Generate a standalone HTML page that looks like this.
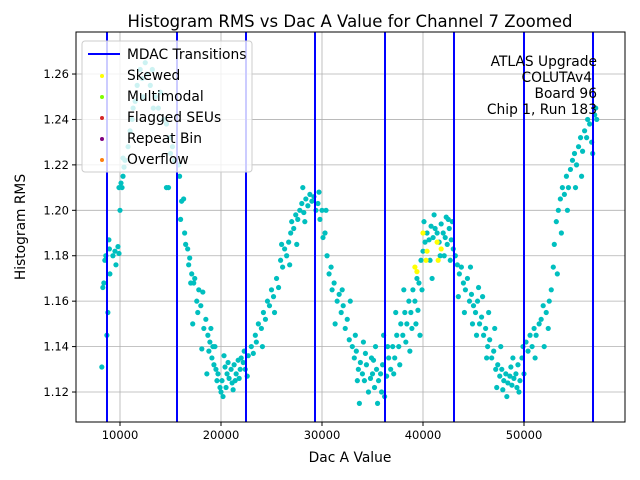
<!DOCTYPE html>
<html><head><meta charset="utf-8"><style>
body{margin:0;background:#fff}
svg{display:block;font-family:"DejaVu Sans","Liberation Sans",sans-serif}
</style></head><body>
<svg id="chart" width="640" height="480" viewBox="0 0 640 480">
<rect width="640" height="480" fill="#fff"/>
<text x="350" y="27" font-size="16.5" text-anchor="middle">Histogram RMS vs Dac A Value for Channel 7 Zoomed</text>
<g id="grid"></g><g id="marks"></g><g id="mdac"></g><g id="axes"></g>
<text x="350" y="462" font-size="13.8" text-anchor="middle">Dac A Value</text>
<text transform="translate(25,227) rotate(-90)" font-size="13.8" text-anchor="middle">Histogram RMS</text>
<g font-size="13.8" text-anchor="end">
<text x="597" y="66">ATLAS Upgrade</text><text x="592" y="82">COLUTAv4</text>
<text x="597" y="98">Board 96</text><text x="597" y="114">Chip 1, Run 183</text></g>
<g id="legend">
<rect x="82" y="41" width="170" height="131" rx="3" fill="#fff" fill-opacity="0.8" stroke="#ccc"/>
<line x1="88" y1="54" x2="120" y2="54" stroke="#0000ff" stroke-width="2"/>
<text x="127" y="59" font-size="13.8">MDAC Transitions</text>
<circle cx="102" cy="76" r="2" fill="#ffff00"/><text x="127" y="80" font-size="13.8">Skewed</text>
<circle cx="102" cy="97" r="2" fill="#7fff00"/><text x="127" y="101" font-size="13.8">Multimodal</text>
<circle cx="102" cy="118" r="2" fill="#d62728"/><text x="127" y="122" font-size="13.8">Flagged SEUs</text>
<circle cx="102" cy="139" r="2" fill="#800080"/><text x="127" y="143" font-size="13.8">Repeat Bin</text>
<circle cx="102" cy="160" r="2" fill="#ff7f0e"/><text x="127" y="164" font-size="13.8">Overflow</text>
</g>
</svg>
<script>
const xTicks=[10000,20000,30000,40000,50000];
const yTicks=[1.12,1.14,1.16,1.18,1.20,1.22,1.24,1.26];
const yTickLabels=["1.12","1.14","1.16","1.18","1.20","1.22","1.24","1.26"];
const mdacTransitions=[8713,15644,22475,29307,36238,43069,50000,56832];
const skewedPoints=[[39200,1.175],[39400,1.173],[40300,1.178],[40400,1.182],[41400,1.186],[41800,1.183],[41500,1.178],[40000,1.19]];
const normalPoints=[[8200,1.131],[8300,1.166],[8400,1.168],[8500,1.178],[8600,1.18],[8700,1.145],[8800,1.155],[8900,1.187],[8950,1.183],[9000,1.172],[9300,1.18],[9500,1.182],[9600,1.176],[9800,1.184],[9900,1.181],[10000,1.2],[10100,1.212],[10200,1.21],[10300,1.215],[10400,1.219],[10500,1.222],[10300,1.223],[9900,1.21],
[10800,1.228],[11000,1.235],[11200,1.24],[11500,1.248],[11700,1.255],[12000,1.262],[12200,1.258],[12500,1.265],[12700,1.26],[13000,1.255],[13200,1.262],[13500,1.25],[13800,1.245],[14000,1.252],[14300,1.24],[14600,1.238],[14900,1.232],[15200,1.228],[15400,1.222],[11300,1.245],[12300,1.25],[13300,1.245],[14800,1.21],[14600,1.21],[15000,1.225],
[15800,1.22],[15900,1.215],[16000,1.196],[16100,1.204],[16300,1.205],[16400,1.19],[16500,1.185],[16700,1.183],[16800,1.176],[16900,1.179],[17000,1.168],[17100,1.172],[17300,1.168],[17400,1.17],[17600,1.16],[17700,1.155],[17800,1.165],[18000,1.158],[18200,1.164],[18300,1.148],[18500,1.152],[18700,1.145],[18800,1.138],[18900,1.142],[19100,1.135],[19200,1.14],[19300,1.132],[19500,1.13],[19600,1.125],[19700,1.128],[19900,1.122],[20000,1.12],[20100,1.125],[20200,1.118],[20400,1.131],[20500,1.122],[20600,1.128],[20800,1.126],[21000,1.13],[21100,1.124],[21300,1.132],[21500,1.128],[21700,1.134],[21900,1.13],[22000,1.135],[22200,1.133],[22400,1.13],[22600,1.127],[22700,1.136],[20700,1.133],[21200,1.121],[21800,1.126],[22300,1.138],
[17200,1.15],[18100,1.139],[19000,1.148],[19400,1.14],[20300,1.136],[21400,1.125],[18600,1.128],
[23000,1.14],[23200,1.137],[23400,1.145],[23500,1.142],[23700,1.15],[24000,1.148],[24200,1.155],[24400,1.152],[24600,1.16],[24800,1.158],[25000,1.165],[25200,1.162],[25500,1.17],[25700,1.166],[25900,1.178],[26100,1.175],[26300,1.183],[26500,1.18],[26700,1.186],[26900,1.19],[27000,1.195],[27200,1.192],[27400,1.198],[27600,1.196],[27800,1.2],[28000,1.203],[28200,1.199],[28400,1.205],[28600,1.202],[28800,1.207],[29000,1.204],[29200,1.206],[29400,1.2],[29600,1.203],[29800,1.196],[30000,1.2],[30100,1.188],[30300,1.19],[30500,1.18],[30700,1.172],[30900,1.175],[31000,1.165],[31200,1.168],[31500,1.16],[31700,1.163],[31900,1.155],[32100,1.158],[32300,1.148],[32500,1.152],[32700,1.143],[33000,1.14],[33200,1.135],[33400,1.138],[33600,1.13],[33800,1.133],[34000,1.128],[34200,1.125],[34400,1.132],[34600,1.12],[34800,1.126],[35000,1.128],[35200,1.122],[35400,1.13],[35600,1.125],[35800,1.128],[36000,1.132],[36200,1.118],[36400,1.127],[36600,1.135],[36800,1.13],[34300,1.137],[35100,1.134],[35900,1.12],[36500,1.14],[37100,1.128],
[24100,1.14],[25300,1.155],[26000,1.185],[26800,1.176],[27500,1.185],[28300,1.195],[28100,1.21],[29700,1.208],[30400,1.2],[31300,1.15],[32000,1.165],[32800,1.16],[33300,1.145],[33700,1.115],[34100,1.142],[34900,1.135],[35500,1.115],[36100,1.145],[33500,1.125],[35300,1.14],
[37000,1.14],[37200,1.135],[37400,1.145],[37600,1.14],[37800,1.15],[38000,1.145],[38200,1.155],[38400,1.15],[38600,1.16],[38800,1.155],[39000,1.165],[39200,1.16],[39400,1.17],[39600,1.168],[39800,1.178],[40000,1.182],[40200,1.186],[40400,1.19],[40600,1.187],[40800,1.193],[41000,1.188],[41200,1.192],[41400,1.19],[41600,1.186],[41800,1.194],[42000,1.19],[42200,1.188],[42400,1.185],[42600,1.192],[42800,1.187],[43000,1.183],[37700,1.132],[38300,1.142],[38900,1.148],[39500,1.156],[42100,1.18],[42500,1.196],
[37300,1.155],[38100,1.165],[38700,1.138],[39300,1.15],[39900,1.165],[40100,1.195],[40700,1.178],[41100,1.198],[41700,1.18],[42300,1.197],[42700,1.178],[42900,1.195],[40900,1.17],[39700,1.145],
[43200,1.18],[43400,1.176],[43600,1.172],[43800,1.175],[44000,1.168],[44200,1.165],[44400,1.17],[44600,1.16],[44800,1.163],[45000,1.158],[45200,1.155],[45400,1.16],[45600,1.15],[45800,1.153],[46000,1.145],[46200,1.148],[46400,1.14],[46600,1.143],[46800,1.135],[47000,1.138],[47200,1.13],[47400,1.132],[47600,1.127],[47800,1.13],[48000,1.125],[48200,1.128],[48400,1.124],[48600,1.127],[48800,1.123],[49000,1.126],[49200,1.128],[49400,1.132],[49600,1.125],[49800,1.135],[50000,1.128],[47900,1.121],[48700,1.131],[49300,1.122],[44900,1.15],[45500,1.166],
[43500,1.162],[44100,1.155],[44700,1.175],[45300,1.145],[45900,1.162],[46500,1.155],[47100,1.148],[47700,1.14],[48300,1.118],[48900,1.135],[49500,1.12],[49900,1.14],[46300,1.135],[47300,1.122],
[50200,1.142],[50400,1.138],[50600,1.145],[50800,1.14],[51000,1.148],[51200,1.145],[51500,1.15],[51700,1.152],[52000,1.14],[52200,1.155],[52500,1.16],[52700,1.165],[52900,1.175],[53000,1.185],[53200,1.195],[53400,1.2],[53600,1.205],[53800,1.21],[54000,1.207],[54200,1.215],[54400,1.21],[54600,1.218],[54800,1.222],[55000,1.225],[55200,1.22],[55400,1.228],[55600,1.232],[55800,1.226],[56000,1.235],[56200,1.232],[56500,1.238],[56800,1.225],[57000,1.242],[57200,1.24],
[51100,1.135],[51900,1.158],[52400,1.148],[53300,1.172],[53700,1.19],[54300,1.2],[55100,1.21],[55700,1.215],[56300,1.24],[56700,1.23],[57100,1.245]];
const L=76,R=625,T=32,B=422,xmin=5644,xmax=60000,ymin=1.1068,ymax=1.2785;
const sx=v=>L+(v-xmin)/(xmax-xmin)*(R-L);
const sy=v=>B-(v-ymin)/(ymax-ymin)*(B-T);
const NS='http://www.w3.org/2000/svg';
function mk(tag,attrs,parent){const e=document.createElementNS(NS,tag);for(const k in attrs)e.setAttribute(k,attrs[k]);parent.appendChild(e);return e;}
const grid=document.getElementById('grid'),axes=document.getElementById('axes'),marks=document.getElementById('marks'),mdac=document.getElementById('mdac');
xTicks.forEach(t=>{const x=sx(t);
 const g=mk('line',{x1:x,x2:x,y1:T,y2:B,stroke:'#b0b0b0','stroke-width':0.8},grid);
 
 
 mk('line',{x1:x,x2:x,y1:B,y2:B+4,stroke:'#000'},axes);
 const tx=mk('text',{x:x,y:B+17,'font-size':11.5,'text-anchor':'middle'},axes);tx.textContent=t;
 
 });
yTicks.forEach((t,i)=>{const y=sy(t);
 const g=mk('line',{x1:L,x2:R,y1:y,y2:y,stroke:'#b0b0b0','stroke-width':0.8},grid);
 
 
 mk('line',{x1:L-4,x2:L,y1:y,y2:y,stroke:'#000'},axes);
 const tx=mk('text',{x:L-7,y:y+4,'font-size':11.5,'text-anchor':'end'},axes);tx.textContent=yTickLabels[i];
 
 });
const frame=mk('rect',{x:L,y:T,width:R-L,height:B-T,fill:'none',stroke:'#000','stroke-width':1},axes);


normalPoints.forEach(p=>{const c=mk('circle',{cx:sx(p[0]),cy:sy(p[1]),r:2.6,fill:'#00bfbf'},marks);
 
 });
skewedPoints.forEach(p=>{const c=mk('circle',{cx:sx(p[0]),cy:sy(p[1]),r:2.6,fill:'#ffff00'},marks);
 
 });
mdacTransitions.forEach(v=>{const l=mk('line',{x1:sx(v),x2:sx(v),y1:T,y2:B,stroke:'#0000ff','stroke-width':2},mdac);
 
 });
</script>
</body></html>
